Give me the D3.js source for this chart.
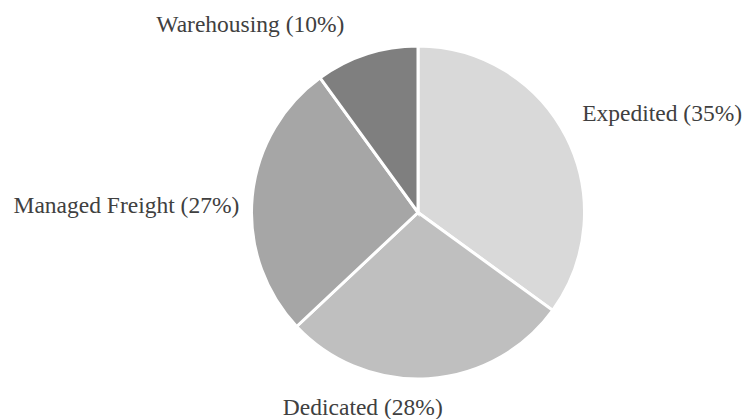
<!DOCTYPE html>
<html>
<head>
<meta charset="utf-8">
<script src="https://cdn.jsdelivr.net/npm/d3@7"></script>
<style>
  html, body { margin: 0; padding: 0; background: #fff; }
  svg { display: block; }
  .label { font-family: "Liberation Serif", Tinos, "Times New Roman", Times, "DejaVu Serif", serif; }
</style>
</head>
<body>
<svg id="chart"></svg>
<script>
// data
const categories = ["Expedited", "Dedicated", "Managed Freight", "Warehousing"];
const shares = [35, 28, 27, 10];
const sliceColors = ["#d9d9d9", "#bfbfbf", "#a6a6a6", "#7f7f7f"];
// small hand tweaks so labels sit where the original put them
const labelNudge = [[-2, -15], [13, 8], [7, 9.5], [-16, -11]];

const width = 744;
const height = 419;
const cx = 418;
const cy = 212.5;
const radius = 166.5;

const svg = d3.select("#chart").attr("width", width).attr("height", height);
const g = svg.append("g").attr("transform", `translate(${cx}, ${cy})`);

const rows = categories.map((c, i) => ({ name: c, value: shares[i], color: sliceColors[i], nudge: labelNudge[i] }));

const pie = d3.pie().sort(null).value((d) => d.value);
const arc = d3.arc().innerRadius(0).outerRadius(radius);
const labelArc = d3.arc().innerRadius(radius + 20).outerRadius(radius + 20);

const arcs = pie(rows);

// slices
g.selectAll("path.slice")
  .data(arcs)
  .join("path")
  .attr("class", "slice")
  .attr("d", arc)
  .attr("fill", (d) => d.data.color)
  .attr("stroke", "#fff")
  .attr("stroke-width", 3)
  .attr("stroke-linejoin", "miter");

// labels
g.selectAll("text.label")
  .data(arcs)
  .join("text")
  .attr("class", "label")
  .attr("x", (d) => labelArc.centroid(d)[0] + d.data.nudge[0])
  .attr("y", (d) => labelArc.centroid(d)[1] + d.data.nudge[1])
  .attr("dy", "0.35em")
  .attr("text-anchor", (d) => {
    const mid = (d.startAngle + d.endAngle) / 2;
    return Math.sin(mid) > 0.3 ? "start" : "end";
  })
  .attr("font-size", 23.5)
  .attr("fill", "#404040")
  .text((d) => `${d.data.name} (${d.data.value}%)`);
</script>
</body>
</html>
